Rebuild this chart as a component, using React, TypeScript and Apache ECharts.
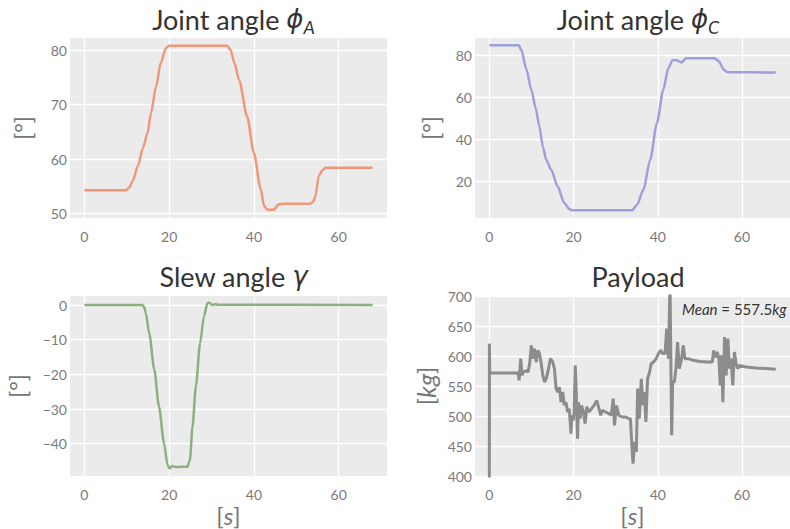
import React, { useEffect, useRef } from "react";
import * as echarts from "echarts";

// ---- data (time [s], value) ----
const phiA: [number, number][] = [
  [0, 54.3], [9.8, 54.3], [10.6, 54.8], [11.4, 56.0], [12.6, 58.7], [13.8, 62.0], [14.9, 64.8],
  [15.7, 68.4], [16.9, 73.3], [18.0, 77.6], [19.2, 80.3], [20, 80.8], [33.7, 80.8], [34.5, 80.0],
  [35.4, 77.6], [36.5, 74.5], [38.4, 67.8], [40.0, 61.1], [41.6, 54.5], [42.4, 51.4], [43.2, 50.7],
  [44.7, 50.7], [45.9, 51.7], [47.1, 51.8], [53.3, 51.8], [54.0, 52.2], [54.5, 53.2], [55.3, 56.9],
  [56.1, 57.9], [56.9, 58.4], [68, 58.4],
];

const phiC: [number, number][] = [
  [0, 85.0], [7.0, 85.0], [7.6, 82.7], [8.8, 73.5], [10.0, 63.6], [11.0, 55.0], [11.9, 46.1],
  [12.7, 36.6], [13.5, 30.2], [14.7, 25.4], [16.2, 17.5], [17.8, 9.5], [19.0, 6.6], [19.6, 6.0],
  [33.9, 6.0], [35.1, 8.7], [36.6, 15.9], [38.2, 30.2], [39.8, 47.7], [41.3, 63.6], [42.5, 74.0],
  [43.5, 77.9], [44.5, 77.9], [45.1, 77.3], [45.6, 76.8], [46.7, 78.8], [53.5, 78.8], [54.5, 77.4],
  [55.7, 73.2], [56.6, 72.1], [68, 72.0],
];

const gamma: [number, number][] = [
  [0, 0], [13.7, 0], [14.1, -0.6], [14.5, -2.4], [15.3, -8.2], [16.5, -18.7], [17.6, -29.3],
  [18.8, -39.9], [19.6, -46.1], [20.1, -47.1], [20.7, -46.4], [21.5, -46.7], [24.3, -46.6],
  [24.9, -44.7], [25.5, -35.1], [26.3, -23.5], [27.3, -11.0], [28.2, -3.4], [29.0, 0.5],
  [29.4, 0.7], [30.2, 0], [31.0, 0.3], [31.4, 0.1], [68, 0],
];

const payload: [number, number][] = [
  [0, 300], [0.02, 620.6], [0.1, 571.7], [6.83, 571.5], [7.07, 559.4], [7.46, 595.6], [7.77, 567.8],
  [8.01, 573], [8.79, 575.5], [9.18, 573], [9.58, 587], [9.97, 617.8], [10.36, 595.6], [10.75, 612],
  [11.14, 590], [11.54, 609.4], [11.93, 604], [12.32, 587], [12.71, 567.8], [13.11, 556.7], [13.5, 562],
  [13.89, 573], [14.52, 595.6], [15.07, 590], [15.46, 579], [15.85, 545.6], [16.24, 540], [16.64, 548],
  [17.03, 523], [17.42, 540], [17.81, 517.8], [18.2, 523], [18.6, 506.7], [18.99, 512], [19.38, 470.6],
  [19.62, 501], [19.93, 492.8], [20.16, 506.7], [20.4, 584.4], [20.64, 540], [20.95, 462.2], [21.18, 523],
  [21.58, 495.6], [21.89, 517.8], [22.36, 506.7], [22.75, 487.2], [23.14, 515], [23.69, 506.7],
  [24.24, 512], [24.87, 517.8], [25.5, 526], [26.05, 512], [26.44, 501], [26.83, 509.4], [27.62, 506.7],
  [28.4, 504], [28.95, 501], [29.42, 529], [29.73, 484.4], [30.2, 517.8], [30.75, 501], [31.54, 498.3],
  [32.32, 498.3], [33.11, 495.6], [33.5, 495.6], [33.89, 445.6], [34.13, 420.6], [34.52, 456.7],
  [34.91, 440], [35.22, 545.6], [35.61, 495.6], [36.09, 562], [36.48, 517.8], [36.79, 540], [37.18, 490],
  [37.58, 562], [38.05, 573], [38.44, 587], [38.99, 590], [39.62, 595.6], [40.16, 604], [40.71, 609.4],
  [41.18, 604], [41.73, 604], [42.12, 645.6], [42.52, 595.6], [42.91, 720], [43.3, 467.8], [43.54, 556.7],
  [43.93, 556.7], [44.32, 579], [44.71, 623.3], [45.11, 579], [45.66, 595.6], [46.05, 617.8],
  [46.44, 595.6], [47.23, 595.6], [48.4, 592.8], [49.97, 591], [51.54, 590], [52.95, 590], [53.26, 609.4],
  [53.73, 598], [54.13, 606.7], [54.52, 595.6], [54.83, 551], [55.14, 601], [55.46, 523], [55.85, 631.7],
  [56.24, 567.8], [56.64, 628.9], [57.03, 579], [57.42, 595.6], [57.81, 551], [58.21, 606.7], [58.6, 587],
  [58.99, 579], [59.38, 584.4], [60.95, 581.7], [63.31, 580], [65.66, 579], [68.01, 577.8],
];

const xTicks = [0, 20, 40, 60];
const yTicksA = [50, 60, 70, 80];
const yTicksC = [20, 40, 60, 80];
const yTicksG = [-40, -30, -20, -10, 0];
const payloadMean = "557.5";

const FONT = 'Lato, "Open Sans", sans-serif';
const MATH = '"DejaVu Sans", sans-serif';
const BG = "#EBEBEB";
const TICK = "#7A7A7A";

const fmt = (v: number) => String(v).replace("-", "\u2212");

export default function App() {
  const ref = useRef<HTMLDivElement>(null);
  useEffect(() => {
    if (!ref.current) return;
    const chart = echarts.init(ref.current, null, { renderer: "svg" });

    const grids = [
      { left: 70, top: 38, width: 317, height: 180 },
      { left: 475, top: 38, width: 318, height: 180 },
      { left: 70, top: 296, width: 317, height: 180 },
      { left: 475, top: 296, width: 318, height: 180 },
    ];

    const richName = {
      i: { fontStyle: "italic", fontFamily: FONT, fontSize: 24, color: "#777" },
    };

    const xAxis = (gi: number, withName: boolean) => ({
      type: "value",
      gridIndex: gi,
      min: -3.4,
      max: 71.4,
      axisLine: { show: false },
      axisTick: { show: false, customValues: xTicks },
      axisLabel: { customValues: xTicks, color: TICK, fontSize: 14, fontFamily: FONT, margin: 11, formatter: fmt },
      splitLine: { show: true, lineStyle: { color: "#FFFFFF", width: 1.3 } },
      name: withName ? "[{i|s}]" : "",
      nameLocation: "middle",
      nameGap: 27,
      nameTextStyle: { fontSize: 24, color: "#777", fontFamily: FONT, rich: richName },
    });

    const yAxis = (gi: number, min: number, max: number, ticks: number[] | null, name: string, gap: number) => ({
      type: "value",
      gridIndex: gi,
      min,
      max,
      ...(ticks ? {} : { interval: 50 }),
      axisLine: { show: false },
      axisTick: ticks ? { show: false, customValues: ticks } : { show: false },
      axisLabel: ticks
        ? { customValues: ticks, color: TICK, fontSize: 14, fontFamily: FONT, margin: 3, formatter: fmt }
        : { color: TICK, fontSize: 14, fontFamily: FONT, margin: 3, formatter: fmt },
      splitLine: { show: true, lineStyle: { color: "#FFFFFF", width: 1.3 } },
      name,
      nameLocation: "middle",
      nameGap: gap,
      nameTextStyle: { fontSize: 23, color: "#777", fontFamily: FONT, rich: { i: { fontStyle: "italic", fontSize: 25, fontFamily: FONT, color: "#777" } } },
    });

    const titleRich = {
      phi: { fontFamily: MATH, fontStyle: "italic", fontSize: 26, color: "#333", lineHeight: 34 },
      sub: { fontFamily: FONT, fontStyle: "italic", fontSize: 18, color: "#333", lineHeight: 9, verticalAlign: "bottom" },
    };
    const mkTitle = (text: string, cx: number, top: number) => ({
      text,
      left: cx,
      top,
      textAlign: "center",
      textStyle: { fontFamily: FONT, fontSize: 27, fontWeight: "normal", color: "#333", rich: titleRich, lineHeight: 34 },
    });

    const lineSeries = (data: [number, number][], gi: number, color: string, smooth: number | boolean, width = 2.5) => ({
      type: "line",
      xAxisIndex: gi,
      yAxisIndex: gi,
      data,
      showSymbol: false,
      smooth,
      smoothMonotone: "x",
      lineStyle: { color, width },
      clip: true,
    });

    chart.setOption({
      animation: false,
      backgroundColor: "#FFFFFF",
      title: [
        mkTitle("Joint angle {phi|ϕ}{sub|A}", 228.5, -3),
        mkTitle("Joint angle {phi|ϕ}{sub|C}", 633, -3),
        mkTitle("Slew angle {phi|γ}", 228.5, 254),
        mkTitle("Payload", 633, 254),
      ],
      grid: grids.map((g) => ({ ...g, backgroundColor: BG, show: true, borderWidth: 0 })),
      xAxis: [xAxis(0, false), xAxis(1, false), xAxis(2, true), xAxis(3, true)],
      yAxis: [
        yAxis(0, 49.2, 82.2, yTicksA, "[°]", 36),
        yAxis(1, 2.3, 88.5, yTicksC, "[°]", 33),
        yAxis(2, -49.3, 2.6, yTicksG, "[°]", 41),
        yAxis(3, 400, 700, null, "[{i|kg}]", 37),
      ],
      series: [
        lineSeries(phiA, 0, "#F0977A", 0.25),
        lineSeries(phiC, 1, "#9E9FDC", 0.25),
        lineSeries(gamma, 2, "#8DB07F", 0.25),
        lineSeries(payload, 3, "#8C8C8C", false, 3),
      ],
      graphic: [
        {
          type: "text",
          x: 682,
          y: 309,
          style: {
            text: "{i|Mean} = " + payloadMean + "{i|kg}",
            rich: { i: { fontStyle: "italic", fontFamily: FONT, fontSize: 15, fill: "#333" } },
            font: "15px " + FONT,
            fill: "#333",
            verticalAlign: "middle",
          },
          z: 100,
        },
      ],
    });
    return () => chart.dispose();
  }, []);
  return <div ref={ref} style={{ position: "fixed", left: 0, top: 0, width: 790, height: 529 }} />;
}
